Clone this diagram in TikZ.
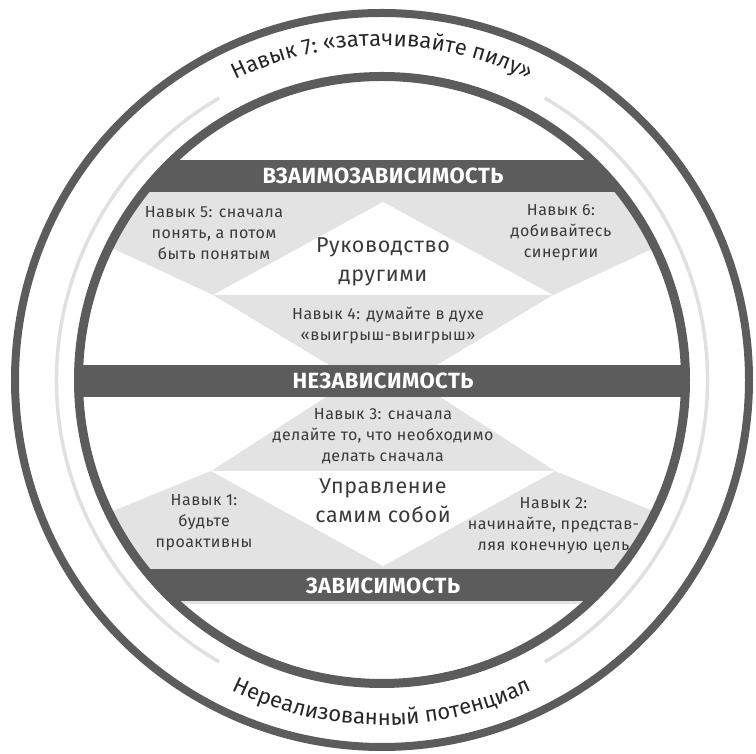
\documentclass[tikz,border=0pt]{standalone}
\usepackage{fontspec}
\setmainfont{Fira Sans}
\newfontfamily\arcfont{Fira Sans}
\newfontfamily\habitfont[LetterSpace=3]{Fira Sans}
\newfontfamily\bandfont[LetterSpace=2]{Fira Sans}
\usetikzlibrary{decorations.text}
\definecolor{ringgray}{HTML}{5C5C5C}
\definecolor{fillgray}{HTML}{E3E3E3}
\definecolor{arcgray}{HTML}{E0E0E0}
\definecolor{textgray}{HTML}{3A3A3A}

\begin{document}
\begin{tikzpicture}[x=1pt, y=1pt]
      \tikzset{
  band/.style={
    fill=ringgray
  },
  band label/.style={
    text=white,
    inner sep=0pt,
    font=\bandfont\fontsize{22}{24}\selectfont\bfseries
  },
  habit/.style={
    text=textgray,
    align=center,
    inner sep=0pt,
    font=\habitfont\fontsize{16}{21}\selectfont
  },
  stage/.style={
    text=textgray,
    align=center,
    inner sep=0pt,
    font=\habitfont\fontsize{21.5}{29}\selectfont
  },
  ring/.style={
    draw=ringgray
  },
  arc text/.style={
    decorate,
    decoration={text along path, text align=center, text color=black!85,
      text={|\arcfont\fontsize{22}{22}\selectfont|#1}}
  }
}

\useasboundingbox (0,0) rectangle (756,754);
\coordinate (c) at (382,374);

\begin{scope}
\clip (c) circle[radius=303.5];
% upper part
\fill[fillgray] (30,565) -- (736,565) -- (736,544) -- (652,505) -- (553,459)
  -- (213,459) -- (114,505) -- (30,544) -- cycle;
\fill[white] (383,552) -- (553,459) -- (213,459) -- cycle;
\fill[fillgray] (213,459) -- (553,459) -- (437,389) -- (329,389) -- cycle;
% lower part
\fill[fillgray] (326,357) -- (440,357) -- (555,283) -- (211,283) -- cycle;
\fill[fillgray] (211,283) -- (555,283) -- (653,243) -- (736,209) -- (736,150)
  -- (30,150) -- (30,209) -- (113,243) -- cycle;
\fill[white] (211,283) -- (555,283) -- (383,188) -- cycle;

\foreach \yb/\n/\l in {578/inter/ВЗАИМОЗАВИСИМОСТЬ,373/indep/НЕЗАВИСИМОСТЬ,168.5/dep/ЗАВИСИМОСТЬ} {
  \fill[band] (60,\yb-16) rectangle (710,\yb+16);
  \node[band label] (\n) at (383,\yb) {\l};
}
\end{scope}

\draw[ring, line width=8] (c) circle[radius=367];
\draw[ring, line width=9] (c) circle[radius=303.5];
\draw[arcgray, line width=3.5] (c) ++(120:325.5) arc[start angle=120, end angle=240, radius=325.5];
\draw[arcgray, line width=3.5] (c) ++(-60:325.5) arc[start angle=-60, end angle=60, radius=325.5];

\path[arc text={Навык 7: «затачивайте пилу»}] (c) ++(160:334) arc[start angle=160, end angle=20, radius=334];
\path[arc text={Нереализованный потенциал}] (c) ++(200:345) arc[start angle=200, end angle=340, radius=345];

\node[habit] (habit5) at (214,521) {Навык 5: сначала\\понять, а потом\\быть понятым};
\node[habit] (habit6) at (561,521) {Навык 6:\\добивайтесь\\синергии};
\node[stage] (others) at (383,492) {Руководство\\другими};
\node[habit] (habit4) at (388,428.5) {Навык 4: думайте в духе\\«выигрыш-выигрыш»};
\node[habit] (habit3) at (383,318) {Навык 3: сначала\\делайте то, что необходимо\\делать сначала};
\node[stage] (self) at (383,253) {Управление\\самим собой};
\node[habit] (habit1) at (204,231) {Навык 1:\\будьте\\проактивны};
\node[habit] (habit2) at (553.5,228) {Навык 2:\\начинайте, представ-\\ляя конечную цель};
    \end{tikzpicture}
\end{document}
